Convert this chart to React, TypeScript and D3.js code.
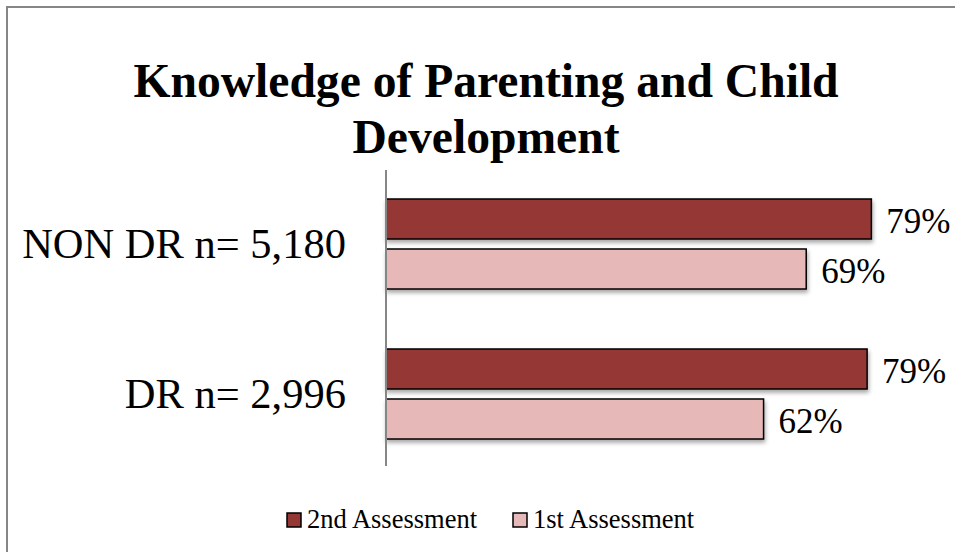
import * as d3 from 'd3';
import React, { useRef, useEffect } from 'react';

const categories = ['NON DR n= 5,180', 'DR n= 2,996'];
const series = ['2nd Assessment', '1st Assessment'];
const secondValues = [0.797, 0.79];
const firstValues = [0.69, 0.62];
const secondLabels = ['79%', '79%'];
const firstLabels = ['69%', '62%'];
const colors = ['#953735', '#E6B9B8'];
const titleLines = ['Knowledge of Parenting and Child', 'Development'];

const W = 955;
const H = 552;
const FONT = '"Liberation Serif", "Times New Roman", serif';

function App() {
  const ref = useRef<SVGSVGElement>(null);

  useEffect(() => {
    const svg = d3.select(ref.current);
    svg.selectAll('*').remove();

    const defs = svg.append('defs');
    defs.append('filter')
      .attr('id', 'shadow')
      .attr('x', '-5%').attr('y', '-20%')
      .attr('width', '115%').attr('height', '160%')
      .append('feDropShadow')
      .attr('dx', 1).attr('dy', 3)
      .attr('stdDeviation', 2)
      .attr('flood-color', '#000')
      .attr('flood-opacity', 0.35);

    // outer frame
    svg.append('rect')
      .attr('x', 7).attr('y', 7)
      .attr('width', W + 20).attr('height', H + 20)
      .attr('fill', 'white')
      .attr('stroke', '#868686')
      .attr('stroke-width', 2);

    // title
    svg.append('text')
      .attr('text-anchor', 'middle')
      .attr('font-family', FONT)
      .attr('font-weight', 'bold')
      .attr('font-size', 47.6)
      .selectAll('tspan')
      .data(titleLines)
      .join('tspan')
      .attr('x', 486)
      .attr('y', (d, i) => 97 + i * 56)
      .text(d => d);

    const x = d3.scaleLinear().domain([0, 1]).range([386, 995]);
    const y = d3.scaleBand<string>()
      .domain(categories)
      .range([169, 469])
      .paddingInner(0.4)
      .paddingOuter(0.2);
    const inner = d3.scaleBand<string>()
      .domain(series)
      .range([0, y.bandwidth()])
      .paddingInner(0.2);

    const rows = categories.map((c, i) => ({
      cat: c,
      vals: [
        { s: series[0], v: secondValues[i], label: secondLabels[i], color: colors[0] },
        { s: series[1], v: firstValues[i], label: firstLabels[i], color: colors[1] },
      ],
    }));

    const groups = svg.append('g')
      .selectAll('g')
      .data(rows)
      .join('g')
      .attr('transform', d => `translate(0, ${y(d.cat)})`);

    groups.selectAll('rect')
      .data(d => d.vals)
      .join('rect')
      .attr('x', x(0))
      .attr('y', d => inner(d.s)!)
      .attr('width', d => x(d.v) - x(0))
      .attr('height', inner.bandwidth())
      .attr('fill', d => d.color)
      .attr('stroke', '#000')
      .attr('stroke-width', 1.5)
      .attr('filter', 'url(#shadow)');

    groups.selectAll('text.val')
      .data(d => d.vals)
      .join('text')
      .attr('class', 'val')
      .attr('x', d => x(d.v) + 15)
      .attr('y', d => inner(d.s)! + inner.bandwidth() / 2 + 14)
      .attr('font-family', FONT)
      .attr('font-size', 35)
      .text(d => d.label);

    // category labels
    svg.append('g')
      .selectAll('text')
      .data(categories)
      .join('text')
      .attr('x', 346)
      .attr('y', d => y(d)! + y.bandwidth() / 2 + 14)
      .attr('text-anchor', 'end')
      .attr('font-family', FONT)
      .attr('font-size', 42.5)
      .text(d => d);

    // vertical axis line
    svg.append('line')
      .attr('x1', x(0)).attr('x2', x(0))
      .attr('y1', 170).attr('y2', 466)
      .attr('stroke', '#868686')
      .attr('stroke-width', 2);

    // legend
    const legendX = [287, 513];
    const legend = svg.append('g')
      .selectAll('g')
      .data(series)
      .join('g')
      .attr('transform', (d, i) => `translate(${legendX[i]}, 513)`);
    legend.append('rect')
      .attr('width', 14).attr('height', 14)
      .attr('fill', (d, i) => colors[i])
      .attr('stroke', '#000')
      .attr('stroke-width', 1.5);
    legend.append('text')
      .attr('x', 20)
      .attr('y', 15)
      .attr('font-family', FONT)
      .attr('font-size', 26.5)
      .text(d => d);
  }, []);

  return (
    <svg ref={ref} width={W} height={H}
      style={{ position: 'absolute', left: 0, top: 0, background: 'white' }} />
  );
}

export default App;
